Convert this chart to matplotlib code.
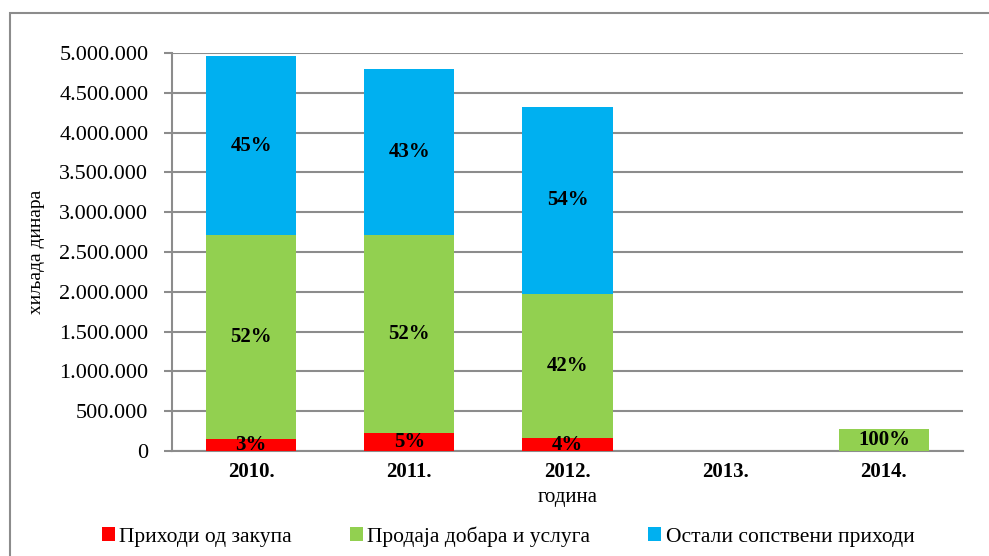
import matplotlib
matplotlib.use("Agg")
import matplotlib.pyplot as plt
from matplotlib.ticker import FuncFormatter
from matplotlib.patches import Rectangle
import numpy as np

years = ["2010.", "2011.", "2012.", "2013.", "2014."]
zakup = [150000, 226000, 163000, 0, 0]
prodaja = [2563000, 2487000, 1809000, 0, 276000]
ostali = [2249000, 2086000, 2350000, 0, 0]
pct_zakup = ["3%", "5%", "4%", "", ""]
pct_prodaja = ["52%", "52%", "42%", "", "100%"]
pct_ostali = ["45%", "43%", "54%", "", ""]
series_names = ["Приходи од закупа", "Продаја добара и услуга", "Остали сопствени приходи"]
colors = ["#FF0000", "#92D050", "#00B0F0"]

plt.rcParams['font.family'] = ['Liberation Serif', 'DejaVu Serif']

W, H = 989, 556
fig = plt.figure(figsize=(W/100, H/100), dpi=100)
ax = fig.add_axes([172/W, 1-451/H, (963-172)/W, (451-53)/H])

# outer frame
fig.patches.append(Rectangle((10/W, -0.05), 1.2, 1-13/H+0.05, transform=fig.transFigure,
                             fill=False, edgecolor="#8c8c8c", linewidth=1.5))

x = np.arange(len(years))
w = 0.57
b1 = ax.bar(x, zakup, w, color=colors[0], label=series_names[0], zorder=3)
b2 = ax.bar(x, prodaja, w, bottom=zakup, color=colors[1], label=series_names[1], zorder=3)
bot3 = np.array(zakup) + np.array(prodaja)
b3 = ax.bar(x, ostali, w, bottom=bot3, color=colors[2], label=series_names[2], zorder=3)

for bars, labels in [(b1, pct_zakup), (b2, pct_prodaja), (b3, pct_ostali)]:
    for r, lab in zip(bars, labels):
        if lab:
            ax.text(r.get_x()+r.get_width()/2, r.get_y()+r.get_height()/2, lab,
                    ha="center", va="center", fontsize=15, fontweight="bold", zorder=4)

ax.set_xlim(-0.5, 4.5)
ax.set_ylim(0, 5000000)
ax.set_yticks(np.arange(0, 5000001, 500000))
ax.yaxis.set_major_formatter(FuncFormatter(lambda v, p: f"{int(v):,}".replace(",", ".")))
ax.grid(axis="y", color="#8c8c8c", linewidth=1.5, zorder=0)
ax.set_axisbelow(True)
for s in ["top", "right"]:
    ax.spines[s].set_visible(False)
ax.spines["left"].set_color("#8c8c8c")
ax.spines["left"].set_linewidth(1.5)
ax.spines["bottom"].set_color("#8c8c8c")
ax.spines["bottom"].set_linewidth(1.5)
ax.tick_params(axis="y", length=6, color="#8c8c8c", width=1.5, labelsize=16, pad=11)
ax.tick_params(axis="x", length=0, pad=8)
ax.set_xticks(x)
ax.set_xticklabels(years, fontsize=15, fontweight="bold")
ax.set_xlabel("година", fontsize=15, labelpad=4)
ax.set_ylabel("хиљада динара", fontsize=14, labelpad=10)

ax.legend(loc="center", bbox_to_anchor=(0.425, -0.215), ncol=3, frameon=False, fontsize=15.5,
          handlelength=0.6, handleheight=0.6, handletextpad=0.2, columnspacing=2.7)

fig.savefig("out.png", dpi=100)
